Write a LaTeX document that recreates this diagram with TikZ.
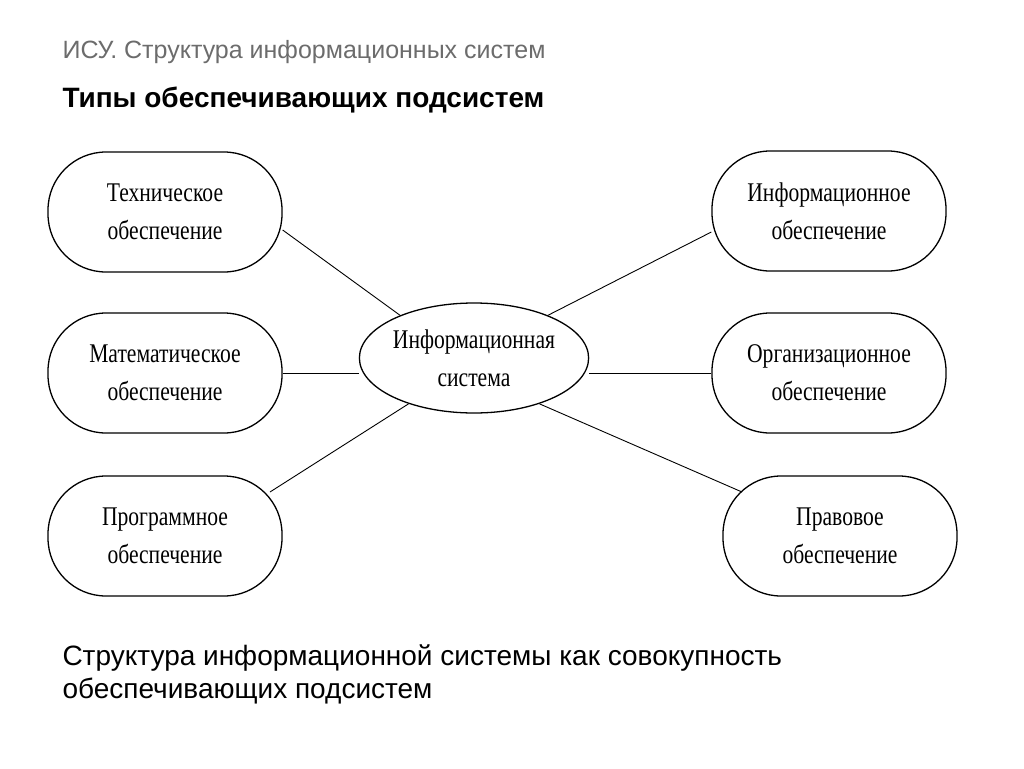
\documentclass[tikz,border=0pt]{standalone}
\usepackage{fontspec}
\setmainfont{Liberation Sans}
\newfontfamily\boxfont[FakeStretch=0.8]{Liberation Serif}
\usetikzlibrary{shapes.geometric}
\begin{document}
\begin{tikzpicture}[x=1pt,y=-1pt,
 sub/.style={draw,line width=1.3pt,rounded corners=58pt,minimum width=234pt,minimum height=120pt,align=center,font=\boxfont\fontsize{27}{38}\selectfont},
 conn/.style={line width=0.9pt}]
\useasboundingbox (0,0) rectangle (1024,768);
\node[anchor=west,text=gray!85!black,font=\fontsize{25}{29}\selectfont] (h1) at (59,52) {ИСУ. Структура информационных систем};
\node[anchor=west,font=\bfseries\fontsize{28}{32}\selectfont] (h2) at (59,100) {Типы обеспечивающих подсистем};
\node[sub] (l1) at (165,212) {Техническое\\обеспечение};
\node[sub] (l2) at (165,373) {Математическое\\обеспечение};
\node[sub] (l3) at (165,536) {Программное\\обеспечение};
\node[sub] (r1) at (829,211) {Информационное\\обеспечение};
\node[sub] (r2) at (829,373) {Организационное\\обеспечение};
\node[sub] (r3) at (840,536) {Правовое\\обеспечение};
\node[draw,ellipse,line width=1.3pt,minimum width=226pt,minimum height=110pt,inner sep=0pt,align=center,font=\boxfont\fontsize{27}{38}\selectfont] (c) at (474,358) {Информационная\\система};
\draw[conn] (l1.east|-0,230) -- (c.150);
\draw[conn] (l2.east) -- (c.west|-0,373);
\draw[conn] (270,492) -- (c.215);
\draw[conn] (r1.west|-0,232) -- (c.30);
\draw[conn] (r2.west) -- (c.east|-0,373);
\draw[conn] (742,492) -- (c.-35);
\node[anchor=west,align=left,font=\fontsize{28}{33}\selectfont] (f) at (59,674) {Структура информационной системы как совокупность\\обеспечивающих подсистем};
\end{tikzpicture}
\end{document}
